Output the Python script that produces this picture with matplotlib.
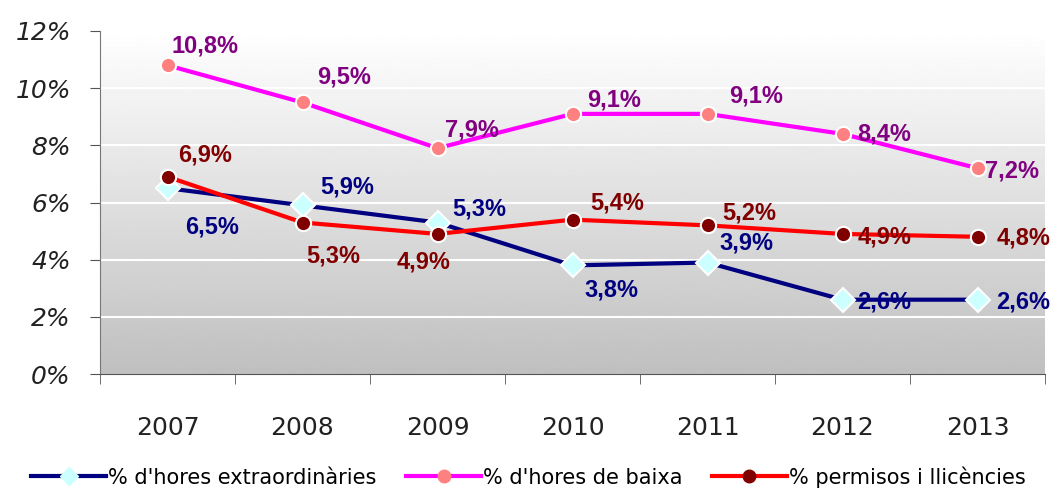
import numpy as np
import matplotlib.pyplot as plt
from matplotlib.lines import Line2D

years = ['2007', '2008', '2009', '2010', '2011', '2012', '2013']
extra = [6.5, 5.9, 5.3, 3.8, 3.9, 2.6, 2.6]
baixa = [10.8, 9.5, 7.9, 9.1, 9.1, 8.4, 7.2]
permisos = [6.9, 5.3, 4.9, 5.4, 5.2, 4.9, 4.8]
names = ["% d'hores extraordinàries", "% d'hores de baixa", "% permisos i llicències"]

# label offsets in points (dx, dy)
off_extra = [(32, -28), (32, 13), (30, 10), (28, -18), (28, 14), (30, -2), (33, -2)]
off_baixa = [(27, 14), (30, 18), (25, 13), (30, 10), (35, 13), (30, 0), (25, -2)]
off_perm = [(27, 16), (22, -24), (-10, -20), (32, 12), (30, 9), (30, -2), (33, -1)]

fig = plt.figure(figsize=(10.57, 4.91), dpi=100)
ax = fig.add_axes([100 / 1057, 1 - 374 / 491, 945 / 1057, 343 / 491])

x = np.arange(len(years))
ax.set_xlim(-0.5, len(years) - 0.5)
ax.set_ylim(0, 12)

# vertical gradient background
grad = np.linspace(1.0, 0.75, 256).reshape(-1, 1)
ax.imshow(grad, cmap='gray', vmin=0, vmax=1, aspect='auto',
          extent=[-0.5, len(years) - 0.5, 0, 12], origin='upper', zorder=0)

for y in range(2, 13, 2):
    ax.axhline(y, color='white', lw=1.5, zorder=1)

series = [
    (extra, '#000080', 'D', '#CCFFFF', 12, '#000080', off_extra),
    (baixa, '#FF00FF', 'o', '#FF8080', 11, '#800080', off_baixa),
    (permisos, '#FF0000', 'o', '#800000', 11, '#800000', off_perm),
]
handles = []
for vals, lc, mk, mc, ms, tc, offs in series:
    ax.plot(x, vals, color=lc, lw=3, marker=mk, markersize=ms,
            markerfacecolor=mc, markeredgecolor='white', markeredgewidth=1.5, zorder=3)
    for xi, v, (dx, dy) in zip(x, vals, offs):
        ax.annotate(f'{v:.1f}%'.replace('.', ','), (xi, v), xytext=(dx, dy),
                    textcoords='offset points', ha='center', va='center',
                    fontsize=17, fontweight='bold', color=tc, zorder=4,
                    family='Liberation Sans')
    handles.append(Line2D([], [], color=lc, lw=3, marker=mk, markersize=9,
                          markerfacecolor=mc, markeredgecolor=mc))

ax.set_yticks(range(0, 13, 2))
ax.set_yticklabels([f'{y}%' for y in range(0, 13, 2)], fontsize=18,
                   style='italic', color='#222222')
ax.set_xticks(x)
ax.set_xticklabels(years, fontsize=18, color='#222222')
ax.set_xticks(np.arange(-0.5, len(years)), minor=True)
ax.tick_params(axis='x', which='major', length=0, pad=30)
ax.tick_params(axis='x', which='minor', length=7, color='#555555')
ax.tick_params(axis='y', length=7, color='#555555', pad=14)

for s in ['top', 'right']:
    ax.spines[s].set_visible(False)
ax.spines['left'].set_color('#777777')
ax.spines['bottom'].set_color('#555555')
ax.spines['left'].set_bounds(-0.08, 12)

fig.legend(handles, names, loc='center', bbox_to_anchor=(0.5, 1 - 477 / 491),
           ncol=3, frameon=False, fontsize=15, handlelength=3.6,
           columnspacing=1.4, handletextpad=0.1, borderpad=0.2)

fig.savefig('out.png', dpi=100)
